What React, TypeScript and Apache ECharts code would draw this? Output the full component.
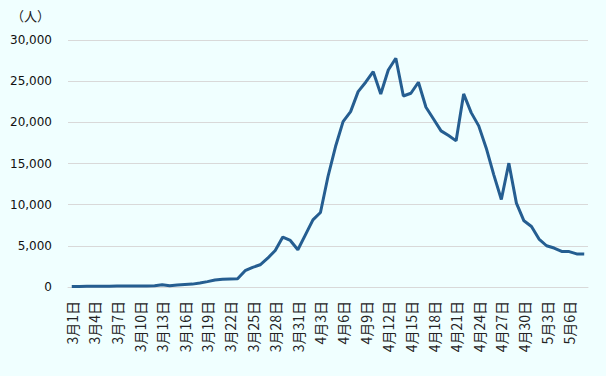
import React, { useEffect, useRef } from "react";
import * as echarts from "echarts";

const categories: string[] = [
  "3月1日","3月2日","3月3日","3月4日","3月5日","3月6日","3月7日","3月8日","3月9日","3月10日",
  "3月11日","3月12日","3月13日","3月14日","3月15日","3月16日","3月17日","3月18日","3月19日","3月20日",
  "3月21日","3月22日","3月23日","3月24日","3月25日","3月26日","3月27日","3月28日","3月29日","3月30日",
  "3月31日","4月1日","4月2日","4月3日","4月4日","4月5日","4月6日","4月7日","4月8日","4月9日",
  "4月10日","4月11日","4月12日","4月13日","4月14日","4月15日","4月16日","4月17日","4月18日","4月19日",
  "4月20日","4月21日","4月22日","4月23日","4月24日","4月25日","4月26日","4月27日","4月28日","4月29日",
  "4月30日","5月1日","5月2日","5月3日","5月4日","5月5日","5月6日","5月7日","5月8日"
];

const values: number[] = [
  60, 70, 80, 90, 100, 100, 110, 110, 120, 120,
  130, 150, 280, 150, 240, 300, 350, 480, 650, 850,
  950, 980, 1000, 1980, 2380, 2700, 3500, 4440, 6060, 5650,
  4520, 6340, 8160, 9050, 13420, 17060, 20090, 21300, 23730, 24870,
  26150, 23450, 26360, 27780, 23200, 23530, 24870, 21830, 20410, 18960,
  18390, 17750, 23450, 21180, 19570, 16860, 13620, 10620, 15040, 10190,
  8040, 7350, 5820, 5010, 4730, 4320, 4300, 4020, 4000
];

const yTicks = { min: 0, max: 30000, interval: 5000 };
const unitLabel = "（人）";

export default function App() {
  const ref = useRef<HTMLDivElement>(null);
  useEffect(() => {
    if (!ref.current) return;
    const chart = echarts.init(ref.current, undefined, { renderer: "svg" });
    chart.setOption({
      animation: false,
      backgroundColor: "#F0FFFF",
      grid: { left: 68, right: 18, top: 40, bottom: 89 },
      graphic: [
        {
          type: "text",
          left: 11,
          top: 9,
          style: {
            text: unitLabel,
            fontSize: 13,
            fontFamily: "Noto Sans CJK JP",
            fill: "#222",
          },
        },
      ],
      xAxis: {
        type: "category",
        data: categories,
        boundaryGap: true,
        axisLine: { lineStyle: { color: "#D9D9D9", width: 1 } },
        axisTick: { interval: 2, length: 6, lineStyle: { color: "#D9D9D9" } },
        axisLabel: {
          interval: 2,
          rotate: 90,
          margin: 14,
          fontSize: 14,
          fontFamily: "Noto Sans CJK JP",
          color: "#222",
        },
      },
      yAxis: {
        type: "value",
        min: yTicks.min,
        max: yTicks.max,
        interval: yTicks.interval,
        axisLine: { show: false },
        axisTick: { show: false },
        splitLine: { lineStyle: { color: "#D9D9D9", width: 1 } },
        axisLabel: {
          margin: 16,
          fontSize: 12,
          fontFamily: "DejaVu Sans",
          color: "#111",
          formatter: (v: number) => v.toLocaleString("en-US"),
        },
      },
      series: [
        {
          type: "line",
          data: values,
          symbol: "none",
          lineStyle: { color: "#255E91", width: 3 },
          itemStyle: { color: "#255E91" },
        },
      ],
    });
    return () => chart.dispose();
  }, []);
  return (
    <div
      ref={ref}
      style={{ position: "fixed", left: 0, top: 0, width: 606, height: 376, background: "#F0FFFF" }}
    />
  );
}
